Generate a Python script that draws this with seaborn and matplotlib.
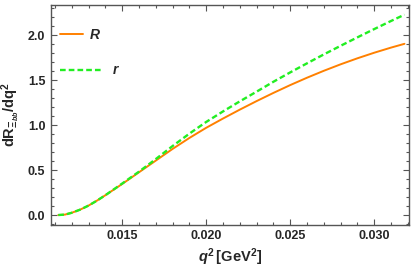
import numpy as np
import pandas as pd
import seaborn as sns
import matplotlib.pyplot as plt
from matplotlib.ticker import MultipleLocator
from matplotlib.lines import Line2D

# values
q2 = [0.0112, 0.0116, 0.0120, 0.0125, 0.0130, 0.0135, 0.0140, 0.0150, 0.0160,
      0.0170, 0.0180, 0.0190, 0.0200, 0.0210, 0.0220, 0.0230, 0.0240, 0.0250,
      0.0260, 0.0270, 0.0280, 0.0290, 0.0300, 0.0310, 0.0318]
R_vals = [0.0, 0.005, 0.025, 0.06, 0.105, 0.16, 0.22, 0.345, 0.475,
          0.605, 0.735, 0.857, 0.97, 1.073, 1.172, 1.267, 1.358, 1.445,
          1.527, 1.604, 1.676, 1.743, 1.805, 1.862, 1.904]
r_vals = [0.0, 0.005, 0.025, 0.06, 0.105, 0.16, 0.22, 0.35, 0.482,
          0.622, 0.767, 0.905, 1.035, 1.152, 1.264, 1.372, 1.482, 1.586,
          1.687, 1.786, 1.882, 1.976, 2.068, 2.158, 2.228]
x_ticks = [0.015, 0.020, 0.025, 0.030]
y_ticks = [0.0, 0.5, 1.0, 1.5, 2.0]

orange = '#FF8000'
green = '#22EE22'

sns.set_style('ticks')
plt.rcParams['font.family'] = ['Liberation Sans', 'DejaVu Sans']
plt.rcParams['mathtext.fontset'] = 'custom'
plt.rcParams['mathtext.rm'] = 'Liberation Sans:bold'
plt.rcParams['mathtext.it'] = 'Liberation Sans:bold:italic'
plt.rcParams['mathtext.bf'] = 'Liberation Sans:bold'

df = pd.DataFrame({'q2': q2, 'R': R_vals, 'r': r_vals})

fig = plt.figure(figsize=(4.15, 2.71), dpi=100)
ax = fig.add_axes([0.123, 0.170, 0.863, 0.813])

dash = (2.4, 1.3)
sns.lineplot(data=df, x='q2', y='R', color=orange, linewidth=1.4, ax=ax)
sns.lineplot(data=df, x='q2', y='r', color=green, linewidth=1.7, ax=ax)
ax.lines[-1].set_dashes(dash)

ax.set_xlim(0.01077, 0.03208)
ax.set_ylim(-0.11, 2.34)
ax.set_xticks(x_ticks)
ax.set_xticklabels([f'{t:.3f}' for t in x_ticks])
ax.set_yticks(y_ticks)
ax.set_yticklabels([f'{t:.1f}' for t in y_ticks])
ax.xaxis.set_minor_locator(MultipleLocator(0.001))
ax.yaxis.set_minor_locator(MultipleLocator(0.1))
ax.tick_params(which='both', direction='in', top=True, right=True,
               color='#555555', width=0.8)
ax.tick_params(which='major', length=4, labelsize=9, pad=4)
ax.tick_params(which='minor', length=2)
for lab in ax.get_xticklabels() + ax.get_yticklabels():
    lab.set_fontweight('bold')
for sp in ax.spines.values():
    sp.set_color('#555555')
    sp.set_linewidth(1.0)

ax.set_xlabel(r'$q^2\,$[GeV$^2$]', fontsize=10.5, fontweight='bold', labelpad=3)
ax.set_ylabel(r'dR$_{\Xi_{bb}}$/dq$^2$', fontsize=10.5, fontweight='bold', labelpad=4)

# legend: the two entries have different line lengths
h1 = Line2D([], [], color=orange, linewidth=1.4)
h2 = Line2D([], [], color=green, linewidth=1.7, dashes=dash)
leg_font = {'style': 'italic', 'weight': 'bold', 'size': 10}
leg1 = ax.legend([h1], ['R'], loc='upper left', bbox_to_anchor=(-0.01, 0.95),
                 frameon=False, handlelength=1.65, handletextpad=0.5, prop=leg_font)
ax.add_artist(leg1)
ax.legend([h2], ['r'], loc='upper left', bbox_to_anchor=(-0.01, 0.79),
          frameon=False, handlelength=3.1, handletextpad=0.7, prop=leg_font)

fig.savefig('out.png', dpi=100)
